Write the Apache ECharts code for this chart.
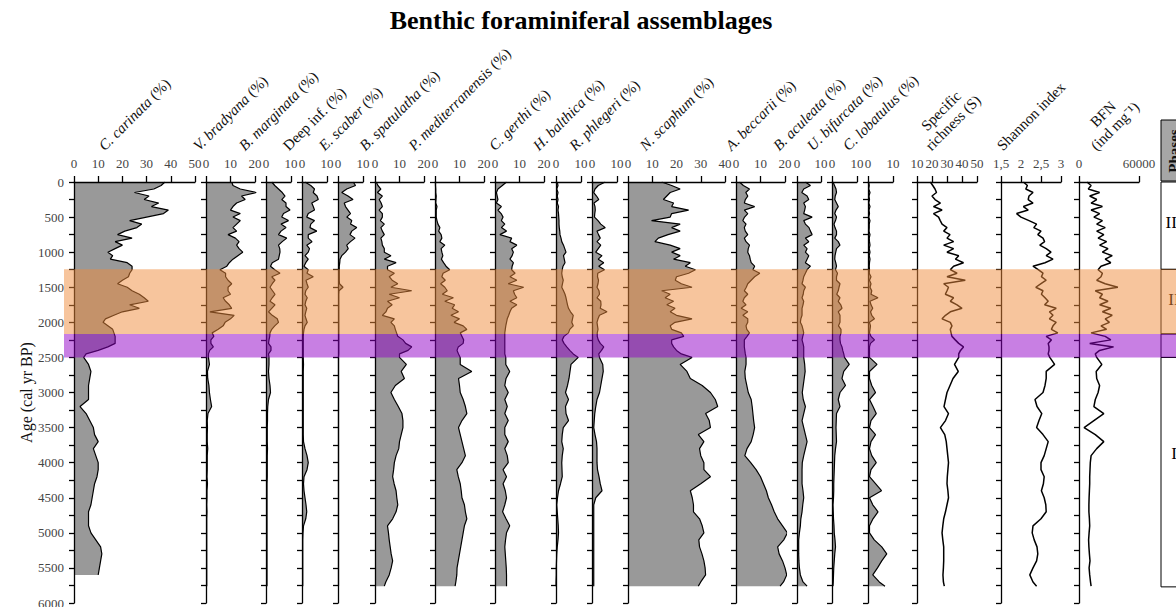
<!DOCTYPE html>
<html>
<head>
<meta charset="utf-8">
<title>Benthic foraminiferal assemblages</title>
<script src="https://cdn.jsdelivr.net/npm/echarts@6.0.0/dist/echarts.min.js"></script>
<style>
  html, body { margin: 0; padding: 0; background: #fff; }
  #chart { width: 1176px; height: 607px; }
</style>
</head>
<body>
<div id="chart"></div>
<script>
// sample ages (cal yr BP), shared by every profile
const AGES = [
  0, 50, 100, 150, 200, 250, 300, 350, 400, 450,
  500, 550, 600, 650, 700, 750, 800, 850, 900, 950,
  1000, 1050, 1100, 1150, 1200, 1250, 1300, 1350, 1400, 1450,
  1500, 1550, 1600, 1650, 1700, 1750, 1800, 1850, 1900, 1950,
  2000, 2050, 2100, 2150, 2200, 2250, 2300, 2350, 2400, 2450,
  2500,
  2600, 2700, 2800, 2900, 3000, 3100, 3200, 3300, 3400, 3500,
  3600, 3700, 3800, 3900, 4000, 4100, 4200, 4300, 4400, 4500,
  4600, 4700, 4800, 4900, 5000, 5100, 5200, 5300, 5400, 5500,
  5600, 5700, 5760
];

const C_CARINATA = [
  37.6, 36, 33, 25, 31, 29, 35, 32, 39, 37,
  30, 23, 28, 26, 21, 18, 24, 17, 20, 17,
  14, 16, 15, 22, 24, 24, 23, 22.5, 20, 18,
  22, 24, 27, 29, 30.7, 23, 27, 20, 16.5, 13,
  12, 14, 16, 16.5, 17, 17, 17, 14, 10, 5,
  4,
  6, 7, 6.5, 6, 6, 6, 2.5, 5, 6.5, 8,
  8.5, 10, 8, 9, 10, 10, 9.5, 8.5, 8, 7.5,
  7, 6, 6, 6, 7, 9, 11, 11.5, 11, 10.5,
  10, null, null
];
const V_BRADYANA = [
  10.5, 11, 14, 20.5, 14.5, 16, 12.5, 11, 10, 14,
  11, 14, 12.5, 11, 12.5, 9, 12, 13.5, 12.5, 13.5,
  15, 13, 11, 9.5, 8.5, 5.7, 8, 8, 9, 10.5,
  9, 9, 10, 7, 8, 9.5, 10.5, 1.6, 11.5, 10,
  7.8, 7, 5, 2.5, 3.2, 2, 2, 3, 1.5, 1,
  1,
  1.4, 0.6, 0.7, 1.2, 1.4, 1.8, 2.3, 0.8, 0.5, 0.6,
  0.5, 0.5, 0.7, 0.5, 0.5, 0.5, 0.4, 0.6, 0.4, 0.4,
  0.3, 0.4, 0.3, 0.3, 0.3, 0.3, 0.3, 0.3, 0.3, 0.3,
  0.3, 0.3, 0.3
];
const B_MARGINATA = [
  2.3, 3.5, 5, 6.5, 7.6, 6.3, 8, 8, 9.6, 7,
  6.3, 9, 6, 8, 6, 5, 8.3, 6.5, 5, 5.5,
  5.6, 5.3, 5, 2.5, 1.8, 3.5, 5.6, 2.3, 3.6, 2.5,
  1.6, 2.6, 3.6, 2.5, 1.6, 3.6, 2.3, 1, 2.5, 4.5,
  5, 3.5, 2.3, 1.6, 1.5, 1.2, 1, 2, 2, 1,
  1.2,
  1.2, 1, 1.2, 1.6, 1.8, 1, 0.7, 0.6, 0.6, 0.5,
  0.5, 0.5, 0.6, 0.5, 0.5, 0.5, 0.5, 0.4, 0.4, 0.4,
  0.4, 0.4, 0.4, 0.4, 0.4, 0.4, 0.4, 0.4, 0.4, 0.4,
  0.4, 0.4, 0.4
];
const DEEP_INF = [
  1.2, 3.5, 5, 4.5, 6, 6.5, 3.9, 4.5, 5, 2.5,
  1.9, 5, 3.5, 3.2, 5.9, 2.5, 2.5, 4, 1.9, 3,
  2.5, 1.2, 2.5, 1.5, 0.8, 2.5, 2, 4.5, 1.6, 2,
  2.5, 1.5, 1.2, 2.1, 1.5, 1.2, 1.9, 1.5, 1.2, 1.6,
  2.1, 1.2, 0.8, 0.6, 0.5, 0.5, 0.5, 0.5, 0.5, 0.5,
  0.5,
  0.6, 0.5, 0.5, 0.5, 0.5, 0.5, 0.5, 0.5, 0.5, 0.5,
  0.5, 0.6, 1.2, 2, 2.5, 2, 0.8, 0.6, 0.8, 1.2,
  1.6, 1.9, 1.5, 0.6, 0.4, 0.3, 0.3, 0.3, 0.3, 0.3,
  0.3, 0.3, 0.3
];
const E_SCABER = [
  6.1, 7, 3.5, 1.5, 4, 6, 2.5, 3, 4, 5,
  3.5, 5.5, 5, 7.5, 5.5, 4.8, 6.8, 5, 3.5, 4.1,
  3, 1.5, 0.8, 0.7, 0.5, 0.5, 0.5, 0.5, 0.5, 0.6,
  2, 0.4, 0.3, 0.3, 0.3, 0.3, 0.3, 0.3, 0.3, 0.3,
  0.3, 0.3, 0.3, 0.3, 0.3, 0.3, 0.3, 0.3, 0.3, 0.3,
  0.2,
  0.2, 0.2, 0.2, 0.2, 0.2, 0.2, 0.2, 0.2, 0.2, 0.2,
  0.2, 0.2, 0.2, 0.2, 0.2, 0.2, 0.2, 0.2, 0.2, 0.2,
  0.2, 0.2, 0.2, 0.2, 0.2, 0.2, 0.2, 0.2, 0.2, 0.2,
  0.2, 0.2, 0.2
];
const B_SPATULATHA = [
  0.5, 1.2, 2.4, 1, 3, 1.7, 2.5, 3, 1.7, 3,
  3, 2.2, 3.8, 2.4, 3, 3.8, 2.4, 2.8, 3, 3.8,
  3.8, 6.5, 3.8, 8.6, 5.1, 5.1, 7.9, 5.8, 7, 9.3,
  6.5, 15, 5.8, 10, 5.1, 7, 5.1, 4.5, 3, 7.9,
  6.5, 7.9, 8.3, 8.8, 9.3, 11.4, 12.5, 15, 13.5, 10,
  10,
  12.8, 10.7, 12, 8.3, 6.5, 7.9, 9.5, 11, 11.4, 11.4,
  10.7, 10, 9.7, 8.6, 7.9, 7.6, 7.2, 7.8, 8.6, 8.9,
  9.3, 8.6, 7.2, 5.1, 5.5, 5.8, 6.2, 6.6, 7.2, 6.6,
  5.8, 4.4, 3.8
];
const P_MEDITERRANENSIS = [
  0.2, 0.2, 0.3, 0.3, 0.5, 0.4, 0.3, 0.8, 0.5, 0.5,
  0.5, 0.8, 1.2, 2, 1.5, 2.5, 2.8, 2, 4, 2.5,
  2.8, 3.2, 2.6, 3.5, 4.5, 6, 3.3, 2.8, 4.2, 2.3,
  4, 5, 3, 7.5, 4, 8, 7, 9.6, 6.5, 10,
  7.8, 11.5, 13, 10.3, 11, 11.7, 11.5, 9.5, 9, 9.6,
  10.3,
  10.3, 15, 9.6, 10, 10.3, 11.5, 12.4, 13, 11, 9.6,
  10.3, 11, 11.7, 12.4, 11, 8.9, 9.5, 10.3, 10.7, 11,
  12, 12.4, 13, 12, 11.5, 11, 10.5, 10, 9.5, 9,
  8.9, 8.5, 8.2
];
const C_GERTHI = [
  4.7, 3, 1.2, 0.6, 0.9, 1.2, 0.6, 2.6, 1.2, 2.5,
  3.3, 2.6, 4, 2.6, 4.7, 2, 6.8, 6.1, 8.9, 6.8,
  7.5, 7, 6.1, 7.5, 7, 6.8, 8.2, 6.1, 8.9, 5.4,
  11.7, 7.5, 8, 8.9, 6.1, 8.9, 6.8, 6.1, 5.6, 5,
  4.7, 4.4, 4.2, 4, 4, 4, 4, 4, 4, 4,
  4.4,
  4.4, 6, 4.5, 4, 5.4, 4, 5, 4, 5.4, 4,
  4, 5.4, 4, 5, 5.4, 3.3, 4.7, 3.3, 4.2, 4.7,
  4, 3.1, 4.5, 6, 4.7, 4.3, 4, 4.2, 4.4, 4.6,
  4.7, 4.7, 4.7
];
const H_BALTHICA = [
  0.5, 0.8, 0.3, 0.8, 0.5, 0.8, 0.5, 1, 0.8, 1,
  1.1, 1.2, 1.2, 1.3, 1.5, 1.6, 2, 2.3, 3, 3.5,
  4, 3, 3.3, 3.6, 2.8, 2.5, 2.3, 2.5, 2.9, 2.6,
  2.3, 3, 3.6, 4, 4.3, 4.6, 5, 5.8, 6.9, 6.6,
  6.3, 6.9, 5.5, 5, 3.2, 2.5, 3.2, 4.3, 5.5, 6.9,
  8.9,
  6, 5.6, 5.2, 4.6, 3.8, 5, 3.8, 4, 5, 2.9,
  2.5, 2.3, 2.9, 2.5, 2.3, 2.4, 2.5, 1.8, 1, 0.6,
  0.3, 0.5, 0.7, 0.9, 1, 0.8, 0.5, 0.3, 0.2, 0.1,
  0.1, 0, 0
];
const R_PHLEGERI = [
  5.3, 2.5, 1.2, 0.7, 1.8, 2.7, 0.8, 1.2, 1.3, 1.1,
  1, 2.4, 3.5, 5.3, 2, 2.6, 3.3, 2, 3.5, 2.5,
  1.5, 4, 2.5, 4.7, 2.7, 5, 2.3, 2.2, 2.6, 2.4,
  2, 2.8, 3, 2, 3.5, 3.6, 3.3, 6, 3, 2.4,
  2, 2.2, 2.4, 2.1, 2.1, 2.5, 3.3, 4.7, 3.8, 2.7,
  3,
  4.3, 4.5, 4, 3.5, 3, 2, 1.5, 1.1, 0.9, 0.7,
  1.2, 1.8, 2, 2, 2, 2.2, 2.8, 3.3, 4, 1.5,
  0.7, 0.7, 0.7, 0.7, 0.7, 0.7, 0.7, 0.7, 0.7, 0.7,
  0.7, 0.7, 0.7
];
const N_SCAPHUM = [
  13.9, 18, 21.5, 17.4, 16, 14.6, 18.8, 18, 25, 18,
  17.4, 9.7, 21.5, 18, 21.5, 16.5, 12.5, 11.1, 17.4, 21.5,
  18, 21.5, 18.8, 25.7, 23.6, 27.8, 25, 20, 19.5, 22,
  26.4, 13.9, 17.4, 15.3, 18.8, 16, 19.4, 17.4, 20, 26.4,
  19.4, 17.4, 18, 22, 23, 18, 18, 18.8, 20, 22,
  26.4,
  21.5, 24.3, 25.7, 30.6, 34, 36, 37, 32, 33.5, 34,
  29, 31.3, 29.5, 30, 31.3, 31.3, 34, 30, 25.7, 26.5,
  27, 27, 29.5, 30.6, 31.3, 29.2, 29.5, 30.5, 31.3, 31.8,
  32, 30, 29
];
const A_BECCARII = [
  1.4, 3, 5.5, 4, 4.8, 3.8, 3.4, 7.6, 3.4, 4.8,
  3.5, 2.8, 4.1, 3.4, 3.8, 4.8, 3.4, 4.1, 5.5, 5,
  4.8, 5.5, 5.8, 6.2, 7.6, 6.9, 9.7, 7.6, 6.2, 4.8,
  4.2, 3.4, 4.8, 3.4, 2.8, 4.1, 2.1, 4.8, 2.8, 4.8,
  4.8, 4.1, 4.4, 5.5, 4.5, 3.4, 3.4, 3.4, 3.6, 3.8,
  4.1,
  4.1, 3.6, 3.8, 4.4, 5, 6.2, 6.6, 6.9, 7.2, 7.6,
  7, 6.2, 4.5, 3.6, 6, 8.2, 10, 11.2, 12.4, 13.2,
  14.5, 15.6, 17, 19, 21, 19.5, 17, 17.6, 19, 20,
  20.7, 19.4, 18
];
const B_ACULEATA = [
  3.5, 5.6, 2.8, 2, 4.2, 4.9, 2.8, 3.5, 3.2, 2.8,
  6.3, 2.8, 3.5, 5, 5.6, 6.3, 3.5, 4.9, 2.8, 4.2,
  3.5, 4.9, 4.2, 3.5, 5.6, 4.2, 3.5, 2.8, 2.5, 2.1,
  3.5, 2.8, 2.6, 2.1, 2.8, 2.5, 2.1, 2.1, 2.1, 1.6,
  1.4, 2.1, 2.5, 2.8, 2.4, 2.1, 2.5, 2.8, 2.8, 2.8,
  2.8,
  3.2, 3.4, 3, 2.6, 2.2, 2.6, 3.5, 2.8, 2.1, 2.8,
  3.5, 4.2, 3.5, 2.8, 2.2, 2.1, 2.1, 2.1, 2.5, 2.8,
  2.4, 2.1, 1.6, 1.4, 1, 0.7, 0.7, 0.7, 0.8, 1,
  1.4, 2.5, 4.2
];
const U_BIFURCATA = [
  0.4, 1, 1.6, 1.8, 1.3, 1.1, 1.8, 2.5, 1.6, 1.1,
  1.8, 1.4, 0.8, 1.2, 1.8, 1.8, 1.1, 2.5, 3.2, 1.8,
  1.5, 1.2, 1.1, 1.5, 1.8, 1.4, 2.2, 1.8, 1.8, 3.2,
  2.8, 2.5, 1.9, 3.2, 2.5, 3.5, 4, 2.5, 3.2, 3.2,
  3.2, 2.6, 3.6, 3.6, 3.2, 3.2, 3.4, 4, 4.3, 4.7,
  5,
  6.9, 4.7, 4, 5.4, 3.2, 2.5, 3.2, 1.8, 1.7, 1.6,
  1.7, 1.8, 1.4, 1.1, 1, 0.9, 0.8, 0.7, 0.7, 0.6,
  0.4, 0.5, 0.6, 0.8, 0.9, 1.2, 1.4, 1.1, 0.9, 0.7,
  0.6, 0.5, 0.4
];
const C_LOBATULUS = [
  0.3, 0.5, 0.3, 0.8, 0.4, 0.6, 0.3, 0.8, 0.4, 0.6,
  0.3, 0.8, 0.5, 0.5, 0.4, 0.8, 0.5, 0.6, 0.8, 0.5,
  0.8, 0.5, 0.8, 0.6, 0.5, 0.6, 0.5, 1.2, 0.6, 1.2,
  0.8, 1.5, 1.2, 4, 0.8, 1.2, 1.9, 1, 1.5, 2.6,
  0.6, 1, 0.8, 0.6, 1.2, 2.6, 1, 0.6, 0.6, 0.6,
  0.6,
  3.6, 0.6, 0.6, 1.5, 3, 0.6, 2, 3.3, 1.2, 0.6,
  3, 1.2, 0.6, 1.5, 3.3, 1.2, 0.6, 3, 5.4, 0.6,
  1.9, 4, 2, 0.6, 0.6, 2.5, 5.5, 7.5, 5.5, 3.8,
  1.9, 4.5, 6.8
];
const SPECIFIC_RICHNESS = [
  18.9, 20.5, 22, 23, 20, 22, 25.6, 21, 26.7, 21,
  24.4, 25.5, 26.7, 30, 27.8, 32, 30, 34.4, 27.8, 34.4,
  30, 37.8, 35.6, 41, 34.4, 32.2, 36.7, 30, 42.2, 27.8,
  31, 30, 28.9, 34.4, 32.2, 36.7, 40, 32.2, 29, 26.7,
  32.2, 33.3, 32.2, 32.7, 33.3, 35.5, 37.8, 41, 39, 37.8,
  37.8,
  35, 37.5, 34, 32, 30, 29, 28, 31, 29, 25.6,
  28.5, 29.5, 30, 30.5, 31, 30.6, 30.2, 30, 30.6, 31,
  30, 29, 27.8, 27.2, 26.7, 27.2, 27.8, 27.8, 27.8, 27.6,
  27.3, 27.6, 28.2
];
const SHANNON = [
  2.06, 2.16, 2.12, 2.3, 2.2, 2.18, 2.3, 2.06, 2.18, 1.89,
  2.0, 2.2, 2.39, 2.32, 2.5, 2.42, 2.55, 2.59, 2.47, 2.63,
  2.75, 2.63, 2.8, 2.6, 2.3, 2.43, 2.55, 2.51, 2.63, 2.5,
  2.37, 2.55, 2.51, 2.6, 2.68, 2.59, 2.88, 2.71, 2.8, 2.71,
  2.88, 2.8, 2.76, 2.92, 2.63, 2.76, 2.68, 2.7, 2.7, 2.68,
  2.72,
  2.84, 2.63, 2.63, 2.6, 2.55, 2.35, 2.4, 2.52, 2.45, 2.39,
  2.55, 2.68, 2.63, 2.58, 2.5, 2.5, 2.58, 2.56, 2.51, 2.58,
  2.62, 2.63, 2.5, 2.3, 2.28, 2.33, 2.4, 2.42, 2.39, 2.3,
  2.22, 2.3, 2.39
];
const BFN = [
  7900, 12100, 9300, 20600, 10700, 17700, 12100, 23400, 12100, 20600,
  14900, 23400, 17700, 26200, 17700, 24800, 19100, 27600, 20600, 29000,
  23400, 33200, 26200, 31800, 22000, 19100, 23400, 22000, 17700, 26200,
  38900, 16300, 23400, 20600, 29000, 20600, 31800, 23400, 33200, 26200,
  30400, 22000, 27600, 12100, 26200, 31800, 10700, 34600, 20600, 16300,
  17700,
  22800, 17200, 17700, 20600, 19100, 16300, 14900, 24800, 14900, 5100,
  16300, 24800, 17700, 12100, 11300, 11000, 10700, 10700, 10400, 10100,
  9900, 9900, 10400, 10700, 10100, 9600, 9900, 10400, 11000, 10100,
  10700, 11500, 12100
];

// shaded intervals (age from, age to) and the phase column
const BANDS = [[1245, 2165], [2165, 2500]];
const BAND_COLORS = ['rgba(240, 140, 60, 0.5)', 'rgba(145, 0, 200, 0.5)'];
const PHASE_BOUNDS = [0, 1245, 2165, 2500, 5770];
const PHASE_NAMES = ['III', 'II', '', 'I'];
const PHASE_LABEL_AGES = [580, 1680, 2330, 3870];

const comma = v => String(v).replace('.', ',');
const plain = v => String(v);

const PANELS = [
  { title: '{i|C. carinata}{n| (%)}', data: C_CARINATA, min: 0, max: 50, step: 10, fill: true },
  { title: '{i|V. bradyana}{n| (%)}', data: V_BRADYANA, min: 0, max: 20, step: 10, fill: true },
  { title: '{i|B. marginata}{n| (%)}', data: B_MARGINATA, min: 0, max: 10, step: 10, fill: true },
  { title: '{n|Deep inf. (%)}', data: DEEP_INF, min: 0, max: 10, step: 10, fill: true },
  { title: '{i|E. scaber}{n| (%)}', data: E_SCABER, min: 0, max: 10, step: 10, fill: true },
  { title: '{i|B. spatulatha}{n| (%)}', data: B_SPATULATHA, min: 0, max: 20, step: 10, fill: true },
  { title: '{i|P. mediterranensis}{n| (%)}', data: P_MEDITERRANENSIS, min: 0, max: 20, step: 10, fill: true },
  { title: '{i|C. gerthi}{n| (%)}', data: C_GERTHI, min: 0, max: 20, step: 10, fill: true },
  { title: '{i|H. balthica}{n| (%)}', data: H_BALTHICA, min: 0, max: 10, step: 10, fill: true },
  { title: '{i|R. phlegeri}{n| (%)}', data: R_PHLEGERI, min: 0, max: 10, step: 10, fill: true },
  { title: '{i|N. scaphum}{n| (%)}', data: N_SCAPHUM, min: 0, max: 40, step: 10, fill: true },
  { title: '{i|A. beccarii}{n| (%)}', data: A_BECCARII, min: 0, max: 20, step: 10, fill: true },
  { title: '{i|B. aculeata}{n| (%)}', data: B_ACULEATA, min: 0, max: 10, step: 10, fill: true },
  { title: '{i|U. bifurcata}{n| (%)}', data: U_BIFURCATA, min: 0, max: 10, step: 10, fill: true },
  { title: '{i|C. lobatulus}{n| (%)}', data: C_LOBATULUS, min: 0, max: 10, step: 10, fill: true },
  { title: '{n|Specific}\n{n|richness (S)}', data: SPECIFIC_RICHNESS, min: 10, max: 50, step: 10, fill: false },
  { title: '{n|Shannon index}', data: SHANNON, min: 1.5, max: 3, step: 0.5, fill: false, fmt: comma },
  { title: '{n|BFN}\n{n|(ind mg\u207B\u00B9)}', data: BFN, min: 0, max: 60000, step: 60000, fill: false, fmt: plain }
];

// layout (pixels)
const PANEL_X = [
  [74, 195], [206, 255], [266, 291], [302, 327], [338, 363], [375, 424],
  [435, 484], [495, 544], [556, 581], [592, 617], [628, 725], [736, 785],
  [797, 821], [832, 857], [868, 893], [917, 977], [1001, 1061], [1079, 1139]
];
const TOP = 182, HEIGHT = 421;
const FONT = '"Liberation Serif", "Times New Roman", serif';
const LABEL_SIZE = 15, LABEL_LINE = 17;
const FILL = '#999999';
const AXIS_LINE = { color: '#000', width: 1.3 };

const RICH = {
  i: { fontStyle: 'italic', fontFamily: FONT, fontSize: LABEL_SIZE, lineHeight: LABEL_LINE, fill: '#111' },
  n: { fontFamily: FONT, fontSize: LABEL_SIZE, lineHeight: LABEL_LINE, fill: '#111' }
};

const measureCtx = document.createElement('canvas').getContext('2d');
function textWidth(str, italic) {
  measureCtx.font = (italic ? 'italic ' : '') + LABEL_SIZE + 'px "Liberation Serif"';
  return measureCtx.measureText(str).width;
}
function richSize(rich) {
  const lines = rich.split('\n');
  let w = 0;
  lines.forEach(line => {
    let lw = 0;
    line.replace(/\{(\w)\|([^}]*)\}/g, (m, s, t) => { lw += textWidth(t, s === 'i'); return m; });
    w = Math.max(w, lw);
  });
  return { w: w, h: lines.length * LABEL_LINE };
}

function fillSeries(i, pts, xmin) {
  return {
    type: 'custom', xAxisIndex: i, yAxisIndex: i, z: 1, silent: true,
    data: pts, encode: { x: 0, y: 1 },
    renderItem: function (params, api) {
      if (params.dataIndex !== 0) return;
      const poly = [api.coord([xmin, pts[0][1]])];
      pts.forEach(p => poly.push(api.coord(p)));
      poly.push(api.coord([xmin, pts[pts.length - 1][1]]));
      return { type: 'polygon', shape: { points: poly }, style: { fill: FILL } };
    }
  };
}

const grids = [], xAxes = [], yAxes = [], series = [], graphics = [];

PANELS.forEach((p, i) => {
  const [x0, x1] = PANEL_X[i];
  grids.push({ left: x0, top: TOP, width: x1 - x0, height: HEIGHT, outerBoundsMode: 'none' });
  xAxes.push({
    gridIndex: i, type: 'value', position: 'top', min: p.min, max: p.max, interval: p.step, z: 3,
    axisLine: { show: true, onZero: false, lineStyle: AXIS_LINE },
    axisTick: { show: true, length: 6, lineStyle: AXIS_LINE },
    axisLabel: {
      show: true, showMinLabel: true, showMaxLabel: true, margin: 12,
      fontFamily: FONT, fontSize: 13, color: '#444', formatter: p.fmt
    },
    splitLine: { show: false }
  });
  const y = {
    gridIndex: i, type: 'value', inverse: true, min: 0, max: 6000, interval: 250, z: 3,
    axisLine: { show: true, onZero: false, lineStyle: AXIS_LINE },
    axisTick: { show: true, length: 5, lineStyle: AXIS_LINE },
    axisLabel: {
      show: i === 0, margin: 10, fontFamily: FONT, fontSize: 13, color: '#444',
      showMinLabel: true, showMaxLabel: true,
      formatter: v => (v % 500 === 0 ? String(v) : '')
    },
    splitLine: { show: false }
  };
  if (i === 0) {
    y.name = 'Age (cal yr BP)';
    y.nameLocation = 'middle';
    y.nameGap = 38;
    y.nameRotate = 90;
    y.nameTextStyle = { fontFamily: FONT, fontSize: 16, color: '#111' };
  }
  yAxes.push(y);

  const pts = AGES.map((a, k) => [p.data[k], a]).filter(d => d[0] != null);
  if (p.fill) series.push(fillSeries(i, pts, p.min));
  series.push({
    type: 'line', xAxisIndex: i, yAxisIndex: i, data: pts, z: 4, silent: true,
    symbol: 'none', showSymbol: false,
    lineStyle: { color: '#000', width: p.fill ? 1.2 : 1.5 }
  });

  const sz = richSize(p.title);
  graphics.push({
    type: 'text', x: (x0 + x1) / 2, y: 154 - 0.3536 * (sz.w + sz.h), rotation: Math.PI / 4, silent: true,
    style: {
      text: p.title, rich: RICH, fontFamily: FONT, fontSize: LABEL_SIZE, fill: '#111',
      align: 'center', verticalAlign: 'middle'
    }
  });
});

// overlay grid for the shaded intervals
const bandIdx = PANELS.length;
grids.push({ left: 64, right: 0, top: TOP, height: HEIGHT, outerBoundsMode: 'none' });
xAxes.push({ gridIndex: bandIdx, type: 'value', min: 0, max: 1, show: false });
yAxes.push({ gridIndex: bandIdx, type: 'value', inverse: true, min: 0, max: 6000, show: false });
series.push({
  type: 'custom', xAxisIndex: bandIdx, yAxisIndex: bandIdx, z: 10, silent: true,
  data: BANDS, encode: { y: [0, 1] },
  renderItem: function (params, api) {
    const a = api.coord([0, api.value(0)]);
    const b = api.coord([1, api.value(1)]);
    return {
      type: 'rect', shape: { x: a[0], y: a[1], width: b[0] - a[0], height: b[1] - a[1] },
      style: { fill: BAND_COLORS[params.dataIndex] }
    };
  }
});

// phase column
const phaseIdx = bandIdx + 1;
grids.push({ left: 1161, top: TOP, width: 26, height: HEIGHT, outerBoundsMode: 'none' });
xAxes.push({ gridIndex: phaseIdx, type: 'value', min: 0, max: 1, show: false });
yAxes.push({ gridIndex: phaseIdx, type: 'value', inverse: true, min: 0, max: 6000, show: false });
series.push({
  type: 'custom', xAxisIndex: phaseIdx, yAxisIndex: phaseIdx, z: 6, silent: true,
  data: PHASE_NAMES.map((n, k) => [PHASE_BOUNDS[k], PHASE_BOUNDS[k + 1], PHASE_LABEL_AGES[k]]),
  encode: { y: [0, 1] },
  renderItem: function (params, api) {
    const a = api.coord([0, api.value(0)]);
    const b = api.coord([1, api.value(1)]);
    const c = api.coord([0.5, api.value(2)]);
    return {
      type: 'group', children: [
        { type: 'rect', shape: { x: a[0], y: a[1], width: b[0] - a[0], height: b[1] - a[1] },
          style: { fill: 'none', stroke: '#000', lineWidth: 1 } },
        { type: 'text', x: c[0], y: c[1],
          style: { text: PHASE_NAMES[params.dataIndex], fontFamily: FONT, fontSize: 17, fill: '#000',
                   align: 'center', verticalAlign: 'middle' } }
      ]
    };
  }
});

graphics.push(
  { type: 'rect', shape: { x: 1161, y: 120, width: 40, height: 61 }, silent: true,
    style: { fill: '#a6a6a6', stroke: '#000', lineWidth: 1 } },
  { type: 'text', x: 1174, y: 151, rotation: Math.PI / 2, silent: true,
    style: { text: 'Phases', fontFamily: FONT, fontSize: 15, fontWeight: 'bold', fill: '#111',
             align: 'center', verticalAlign: 'middle' } },
  { type: 'text', x: 581, y: 20, silent: true,
    style: { text: 'Benthic foraminiferal assemblages', fontFamily: FONT, fontSize: 26,
             fontWeight: 'bold', fill: '#000', align: 'center', verticalAlign: 'middle' } }
);

const chart = echarts.init(document.getElementById('chart'), null, { renderer: 'svg' });
chart.setOption({
  animation: false,
  backgroundColor: '#fff',
  grid: grids,
  xAxis: xAxes,
  yAxis: yAxes,
  series: series,
  graphic: { elements: graphics }
});
</script>
</body>
</html>
